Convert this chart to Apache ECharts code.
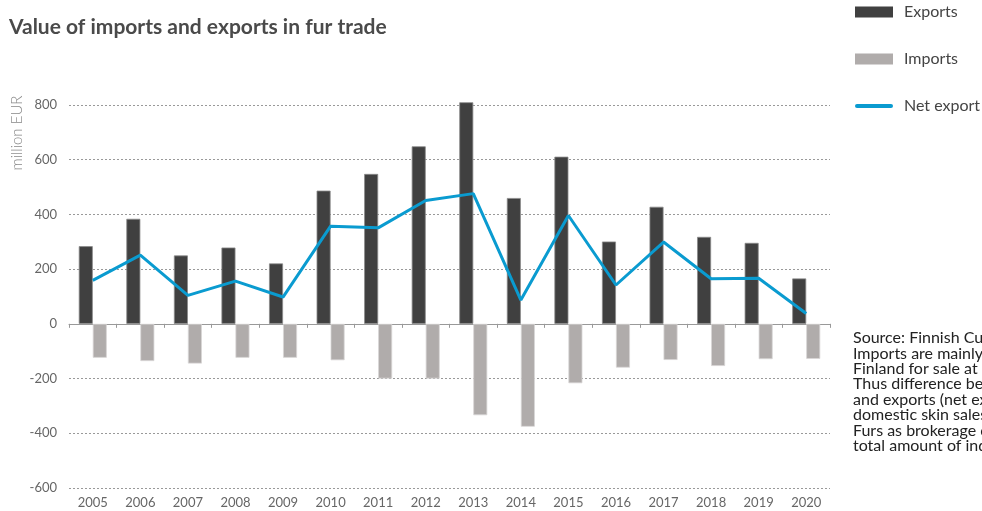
<!DOCTYPE html>
<html>
<head>
<meta charset="utf-8">
<script src="https://cdn.jsdelivr.net/npm/echarts@6/dist/echarts.min.js"></script>
<style>
  html, body { margin: 0; padding: 0; background: #fff; }
  #chart { width: 982px; height: 511px; }
</style>
</head>
<body>
<div id="chart"></div>
<script>
const years = ['2005', '2006', '2007', '2008', '2009', '2010', '2011', '2012',
  '2013', '2014', '2015', '2016', '2017', '2018', '2019', '2020'];
const exportsData = [284, 384, 250, 279, 221, 487, 548, 649, 810, 460, 611, 301, 428, 318, 296, 166];
const importsData = [-124, -136, -145, -124, -124, -133, -200, -200, -334, -376, -217, -160, -132, -154, -129, -128];
const netExport = [159, 251, 104, 156, 98, 357, 351, 451, 476, 87, 396, 142, 299, 165, 167, 38];
const sourceLines = [
  'Source: Finnish Customs',
  'Imports are mainly raw skins brought to',
  'Finland for sale at Saga Furs auctions.',
  'Thus difference between imports',
  'and exports (net export) describes',
  'domestic skin sales. Exports of Saga',
  'Furs as brokerage company are not the',
  'total amount of industry sales.'
];

const font = 'Lato, "Noto Sans", sans-serif';
const chart = echarts.init(document.getElementById('chart'));

const option = {
  backgroundColor: '#fff',
  animation: false,
  textStyle: { fontFamily: font },
  title: {
    text: 'Value of imports and exports in fur trade',
    left: 4, top: 12,
    textStyle: { fontFamily: font, fontSize: 21, fontWeight: 'bold', color: '#4a4a4a' }
  },
  legend: {
    orient: 'vertical',
    left: 855, top: 2,
    padding: 0,
    itemWidth: 38, itemHeight: 11,
    itemGap: 27,
    itemStyle: { borderWidth: 0 },
    textStyle: { fontFamily: font, fontSize: 16, color: '#444', lineHeight: 20, padding: [0, 0, 0, 6] },
    data: [
      { name: 'Exports', icon: 'rect' },
      { name: 'Imports', icon: 'rect' },
      { name: 'Net export', icon: 'path://M2,0 L36,0 A2,2 0 0 1 36,4 L2,4 A2,2 0 0 1 2,0 Z' }
    ]
  },
  grid: { left: 69, right: 152, top: 105, bottom: 23 },
  xAxis: [
    {
      type: 'category',
      data: years,
      position: 'bottom',
      axisLine: { show: false, onZero: false },
      axisTick: { show: false },
      axisLabel: { fontFamily: font, fontSize: 13, color: '#666', margin: 8 }
    },
    {
      type: 'category',
      data: years,
      position: 'bottom',
      axisLine: { onZero: true, lineStyle: { color: '#999', width: 1 } },
      axisTick: { show: true, length: 4, inside: false, lineStyle: { color: '#999' } },
      axisLabel: { show: false }
    }
  ],
  yAxis: {
    type: 'value',
    min: -600, max: 800, interval: 200,
    axisLine: { show: false },
    axisTick: { show: false },
    axisLabel: { fontFamily: font, fontSize: 13, color: '#666', margin: 12 },
    splitLine: { lineStyle: { color: '#999', type: [2, 2], width: 1 } }
  },
  series: [
    {
      name: 'Exports', type: 'bar', data: exportsData,
      barWidth: 14, barGap: '0%', clip: false,
      itemStyle: { color: '#404040', borderColor: '#8a8a8a', borderWidth: 0.8 }
    },
    {
      name: 'Imports', type: 'bar', data: importsData,
      barWidth: 14, barGap: '0%', clip: false,
      itemStyle: { color: '#b0acab', borderColor: '#d8d6d6', borderWidth: 0.8 }
    },
    {
      name: 'Net export', type: 'line', data: netExport,
      symbol: 'none', smooth: false, z: 5,
      itemStyle: { color: '#0a9bd0' },
      lineStyle: { color: '#0a9bd0', width: 3 }
    }
  ],
  graphic: [
    {
      type: 'text',
      x: 17, y: 133,
      rotation: Math.PI / 2,
      style: {
        text: 'million EUR',
        fontFamily: font, fontSize: 15, fontWeight: 300, fill: '#888',
        align: 'center', verticalAlign: 'middle'
      }
    },
    {
      type: 'text',
      left: 853, top: 330,
      style: {
        text: sourceLines.join('\n'),
        fontFamily: font, fontSize: 16, lineHeight: 15.4, fill: '#222'
      }
    }
  ]
};

chart.setOption(option);
</script>
</body>
</html>
